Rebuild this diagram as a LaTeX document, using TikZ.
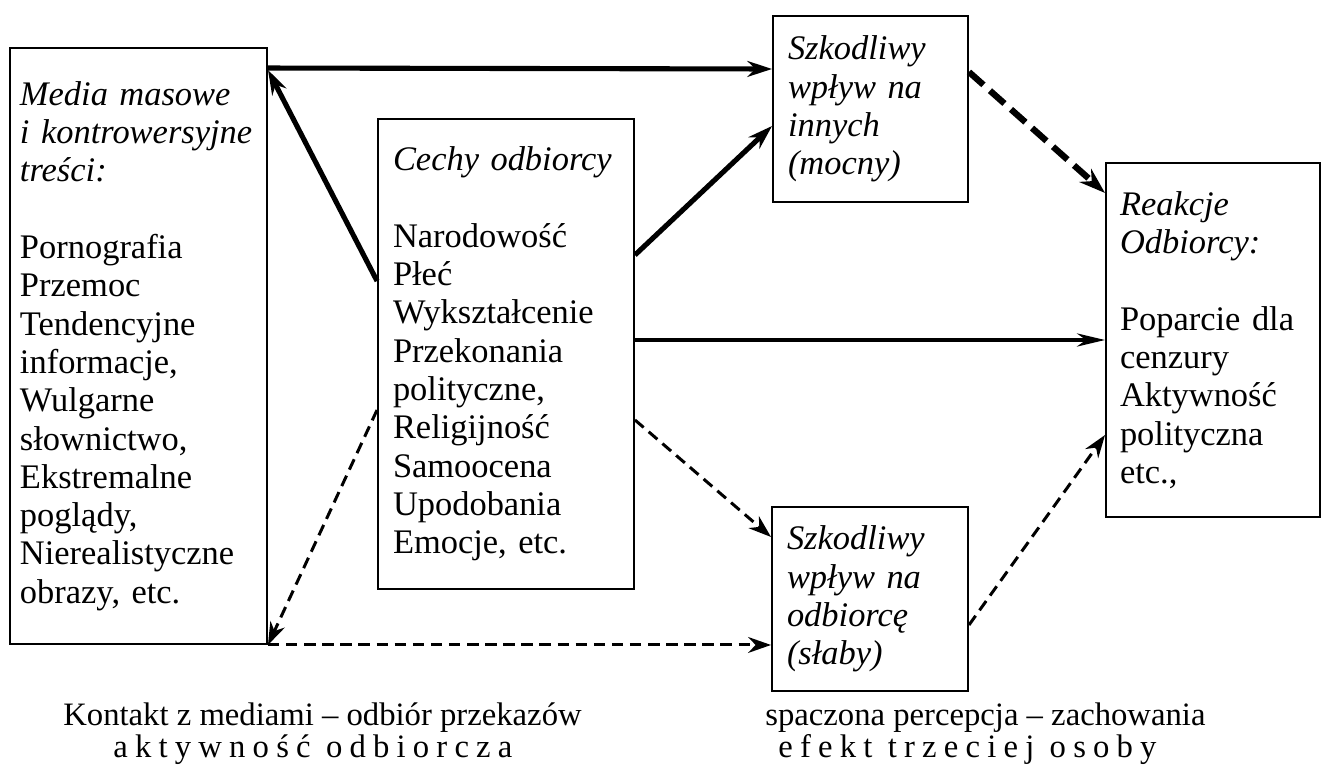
\documentclass[tikz,border=0pt]{standalone}
\usepackage{fontspec}
\setmainfont{Liberation Serif}
\usetikzlibrary{arrows.meta}

\tikzset{
  every node/.style={font=\fontsize{19.6}{21.8}\selectfont},
  box/.style={draw, line width=1.1pt, align=left, inner ysep=0pt},
  strongarrow/.style={line width=2.9pt, -{Stealth[length=14pt,width=9pt]}},
  plainarrow/.style={line width=2pt, -{Stealth[length=16pt,width=7.5pt]}},
  weakarrow/.style={line width=1.7pt, dash pattern=on 6.5pt off 3.8pt, -{Stealth[length=13pt,width=9pt]}},
  heavyarrow/.style={line width=3.6pt, dash pattern=on 11pt off 5pt, -{Stealth[length=15pt,width=10pt]}},
  caption/.style={anchor=base west, inner sep=0pt, font=\fontsize{18.6}{20}\selectfont},
}

\begin{document}
\begin{tikzpicture}[x=0.2mm, y=-0.2mm]
\useasboundingbox (0,0) rectangle (1324,775);

\node[box, text width=47.4mm, inner xsep=2mm, minimum height=119.2mm] (media) at (138.5,346)
  {\itshape Media masowe\\ i kontrowersyjne\\ treści:\\[21.8pt]
   \upshape Pornografia\\ Przemoc\\ Tendencyjne\\ informacje,\\ Wulgarne\\ słownictwo,\\
   Ekstremalne\\ poglądy,\\ Nierealistyczne\\ obrazy, etc.};
\node[box, text width=45.2mm, inner xsep=3mm, minimum height=94mm] (cechy) at (506,354)
  {\itshape Cechy odbiorcy\\[21.8pt]
   \upshape Narodowość\\ Płeć\\ Wykształcenie\\ Przekonania\\ polityczne,\\ Religijność\\
   Samoocena\\ Upodobania\\ Emocje, etc.};
\node[box, text width=33mm, inner xsep=3mm, minimum height=37.2mm] (mocny) at (870.5,109)
  {\itshape Szkodliwy\\ wpływ na\\ innych\\ (mocny)};
\node[box, text width=33.2mm, inner xsep=3mm, minimum height=36.8mm] (slaby) at (870,599)
  {\itshape Szkodliwy\\ wpływ na\\ odbiorcę\\ (słaby)};
\node[box, text width=37.2mm, inner xsep=2.8mm, minimum height=70.8mm] (reakcje) at (1213,340)
  {\itshape Reakcje\\ Odbiorcy:\\[21.8pt]
   \upshape Poparcie dla\\ cenzury\\ Aktywność\\ polityczna\\ etc.,};

\node[caption] (kontakt) at (63,725) {Kontakt z mediami – odbiór przekazów};
\node[caption] (aktywnosc) at (113,757) {\addfontfeature{LetterSpace=22}aktywność odbiorcza};
\node[caption] (spaczona) at (765,725) {spaczona percepcja – zachowania};
\node[caption] (efekt) at (778,757) {\addfontfeature{LetterSpace=22}efekt trzeciej osoby};

\draw[strongarrow] ([yshift=-4.2mm]media.north east) -- ([yshift=8mm]mocny.west);
\draw[strongarrow] ([yshift=14.6mm]cechy.west) -- ([yshift=55.2mm]media.east);
\draw[strongarrow] ([yshift=19.8mm]cechy.east) -- ([yshift=-3.4mm]mocny.west);
\draw[plainarrow] (cechy.east |- reakcje.west) -- (reakcje.west);
\draw[weakarrow] ([yshift=-13.2mm]cechy.east) -- ([yshift=12.4mm]slaby.west);
\draw[weakarrow] ([yshift=-11.2mm]cechy.west) -- (media.south east);
\draw[weakarrow] (media.south east) -- (media.south east -| slaby.west);
\draw[heavyarrow] ([yshift=7.4mm]mocny.east) -- ([yshift=29.4mm]reakcje.west);
\draw[weakarrow] ([yshift=-5.2mm]slaby.east) -- ([yshift=-19mm]reakcje.west);
\end{tikzpicture}
\end{document}
